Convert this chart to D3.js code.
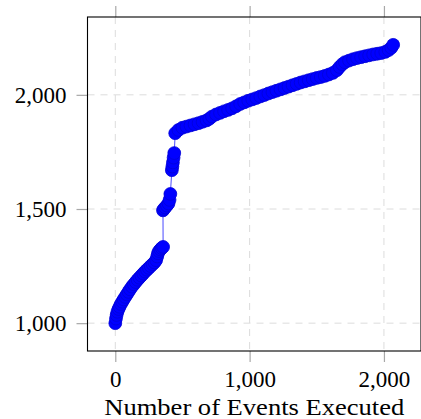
<!DOCTYPE HTML>
<html>
<head>
    <meta charset="UTF-8">
    <title></title>
    <style>
        body {
            margin: 0;
            background: #fff;
        }
        svg text {
            font-family: "Liberation Serif", "DejaVu Serif", serif;
            fill: #000;
        }
    </style>
    <script src="https://d3js.org/d3.v7.min.js"></script>
</head>
<body>
<svg id="chart" width="421" height="419"></svg>

<script>
    // number of events executed (x) and the value read at that point (y)
    var eventsExecuted = [
        0, 5, 10, 16, 24, 32, 42, 52, 62, 74, 86, 98, 110, 124, 138, 152, 166, 180, 194, 208,
        222, 236, 250, 264, 278, 292, 304, 312, 318, 326, 336, 346, 356,
        355, 362, 372, 384, 396, 404, 410, 421, 425, 429, 434, 439,
        446, 470, 500, 530, 560, 590, 620, 650, 680, 700, 720, 750, 780, 810, 840, 870, 900,
        930, 960, 990, 1020, 1050, 1080, 1110, 1140, 1170, 1200, 1230, 1260, 1290, 1320, 1350,
        1380, 1410, 1440, 1470, 1500, 1530, 1560, 1590, 1620, 1650, 1670, 1690, 1710, 1740,
        1770, 1800, 1830, 1860, 1890, 1920, 1950, 1980, 2010, 2035, 2055, 2069
    ];
    var values = [
        1000, 1020, 1036, 1050, 1062, 1072, 1084, 1094, 1104, 1115, 1126, 1137, 1148, 1160, 1170, 1180, 1190, 1199, 1208, 1217,
        1226, 1234, 1242, 1250, 1258, 1266, 1276, 1292, 1306, 1316, 1323, 1329, 1334,
        1494, 1500, 1507, 1515, 1524, 1540, 1566, 1670, 1686, 1704, 1725, 1745,
        1832, 1846, 1856, 1861, 1866, 1871, 1876, 1882, 1888, 1895, 1905, 1914, 1921, 1928, 1934, 1941, 1950,
        1960, 1967, 1974, 1980, 1986, 1993, 1999, 2006, 2012, 2018, 2024, 2030, 2036, 2042, 2048,
        2054, 2059, 2064, 2069, 2074, 2078, 2083, 2089, 2096, 2108, 2122, 2134, 2143, 2150,
        2156, 2161, 2165, 2169, 2173, 2177, 2180, 2183, 2188, 2196, 2206, 2219
    ];

    var xTicks = [0, 1000, 2000];
    var yTicks = [1000, 1500, 2000];
    var xLabel = "Number of Events Executed";

    var data = eventsExecuted.map(function (d, i) {
        return {x: d, y: values[i]};
    });

    var svg = d3.select("#chart");
    var pLeft = 87.5, pRight = 421, pTop = 17, pBottom = 351;

    // pgfplots style: enlarge limits by 10% on each side
    function enlarged(arr) {
        var e = d3.extent(arr), pad = (e[1] - e[0]) * 0.1;
        return [e[0] - pad, e[1] + pad];
    }

    var x = d3.scaleLinear().domain(enlarged(eventsExecuted)).range([pLeft, pRight]);
    var y = d3.scaleLinear().domain(enlarged(values)).range([pBottom, pTop]);
    var fmt = d3.format(",");

    // grid
    svg.append("g").selectAll("line").data(xTicks).enter().append("line")
        .attr("x1", function (d) { return x(d); })
        .attr("x2", function (d) { return x(d); })
        .attr("y1", pTop).attr("y2", pBottom)
        .attr("stroke", "#dcdcdc").attr("stroke-width", 1).attr("stroke-dasharray", "7,6");
    svg.append("g").selectAll("line").data(yTicks).enter().append("line")
        .attr("y1", function (d) { return y(d); })
        .attr("y2", function (d) { return y(d); })
        .attr("x1", pLeft).attr("x2", pRight)
        .attr("stroke", "#dcdcdc").attr("stroke-width", 1).attr("stroke-dasharray", "7,6");

    // axes (outside ticks, grey)
    var tickLen = 11;
    var xb = svg.append("g").attr("transform", "translate(0," + pBottom + ")")
        .call(d3.axisBottom(x).tickValues(xTicks).tickSize(tickLen).tickPadding(9).tickFormat(fmt));
    var xt = svg.append("g").attr("transform", "translate(0," + pTop + ")")
        .call(d3.axisTop(x).tickValues(xTicks).tickSize(tickLen).tickFormat(""));
    var yl = svg.append("g").attr("transform", "translate(" + pLeft + ",0)")
        .call(d3.axisLeft(y).tickValues(yTicks).tickSize(tickLen).tickPadding(10).tickFormat(fmt));

    [xb, xt, yl].forEach(function (g) {
        g.select(".domain").remove();
        g.selectAll(".tick line").attr("stroke", "#a8a8a8").attr("stroke-width", 1.2);
        g.selectAll("text").attr("font-family", "Liberation Serif").attr("font-size", 23).attr("fill", "#000");
    });
    yl.selectAll("text").attr("dy", "0.33em");

    // box
    svg.append("rect")
        .attr("x", pLeft).attr("y", pTop)
        .attr("width", pRight - pLeft).attr("height", pBottom - pTop)
        .attr("fill", "none").attr("stroke", "#000").attr("stroke-width", 1.1);

    // line + marks
    var line = d3.line()
        .x(function (d) { return x(d.x); })
        .y(function (d) { return y(d.y); });

    svg.append("path").datum(data)
        .attr("d", line)
        .attr("fill", "none")
        .attr("stroke", "#4a4aff")
        .attr("stroke-width", 1);

    svg.append("g").selectAll("circle").data(data).enter().append("circle")
        .attr("cx", function (d) { return x(d.x); })
        .attr("cy", function (d) { return y(d.y); })
        .attr("r", 6.4)
        .attr("fill", "#0000ff")
        .attr("stroke", "#0000d8")
        .attr("stroke-width", 0.8);

    // x label
    svg.append("text")
        .attr("x", (pLeft + pRight) / 2)
        .attr("y", 415)
        .attr("text-anchor", "middle")
        .attr("font-size", 23)
        .attr("textLength", 300)
        .attr("lengthAdjust", "spacingAndGlyphs")
        .text(xLabel);
</script>
</body>
</html>
